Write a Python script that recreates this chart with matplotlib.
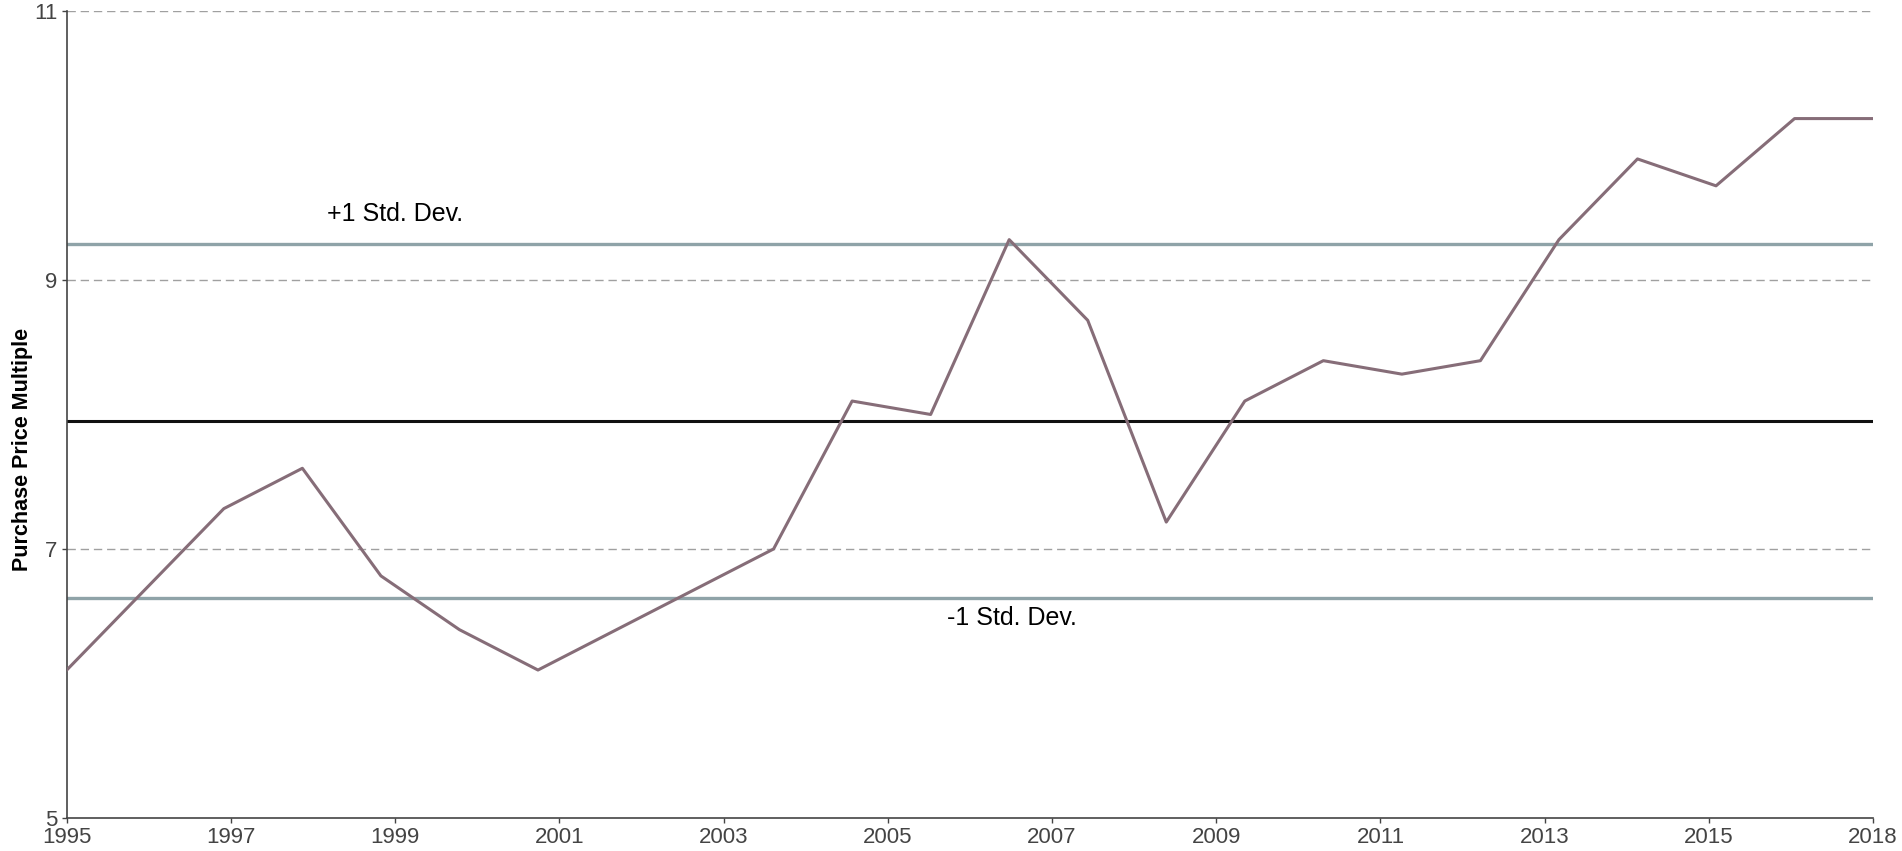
import numpy as np
import matplotlib.pyplot as plt

plt.rcParams['font.family'] = ['Liberation Sans', 'DejaVu Sans']

# Data: one value per year.
years = list(range(1995, 2019))
multiple = [6.1, 6.7, 7.3, 7.6, 6.8, 6.4, 6.1, 6.4, 6.7, 7.0, 8.1, 8.0,
            9.3, 8.7, 7.2, 8.1, 8.4, 8.3, 8.4, 9.3, 9.9, 9.7, 10.2, 10.2]

# Axis labels as they appear on the chart.
tick_labels = ['1995', '1997', '1999', '2001', '2003', '2005', '2007',
               '2009', '2011', '2013', '2015', '2018']
y_ticks = [5, 7, 9, 11]

# Average and +/- one standard deviation.
mean = np.mean(multiple)
std = np.std(multiple, ddof=1)

x = np.arange(len(years))

fig = plt.figure(figsize=(19.02, 8.51), dpi=100)
ax = fig.add_axes([0.0351, 0.0388, 0.9497, 0.9483])

# Dashed horizontal grid.
for y in y_ticks[1:]:
    ax.axhline(y, color='#a0a0a0', linewidth=1.0, linestyle=(0, (6, 3.5)), zorder=1)

# Reference lines.
ax.axhline(mean + std, color='#8fa3a8', linewidth=2.4, zorder=2)
ax.axhline(mean - std, color='#8fa3a8', linewidth=2.4, zorder=2)
ax.axhline(mean, color='#111111', linewidth=2.2, zorder=2)

# Main series.
ax.plot(x, multiple, color='#866d78', linewidth=2.2, zorder=3)

# Annotations of the std lines.
ax.text(4.18, mean + std + 0.22, '+1 Std. Dev.', fontsize=18, ha='center', va='center')
ax.text(12.03, mean - std - 0.15, '-1 Std. Dev.', fontsize=18, ha='center', va='center')

ax.set_xlim(0, len(years) - 1)
ax.set_ylim(5, 11)
ax.set_xticks(np.linspace(0, len(years) - 1, len(tick_labels)))
ax.set_xticklabels(tick_labels)
ax.set_yticks(y_ticks)

ax.tick_params(axis='both', labelsize=16, labelcolor='#444444', color='#444444',
               length=3.5, width=1, pad=3)

for side in ['top', 'right']:
    ax.spines[side].set_visible(False)
for side in ['left', 'bottom']:
    ax.spines[side].set_color('#444444')
    ax.spines[side].set_linewidth(1.2)

ax.set_ylabel('Purchase Price Multiple', fontsize=15.5, fontweight='bold')
ax.yaxis.set_label_coords(-0.0187, 0.457)

fig.savefig('out.png', dpi=100)
